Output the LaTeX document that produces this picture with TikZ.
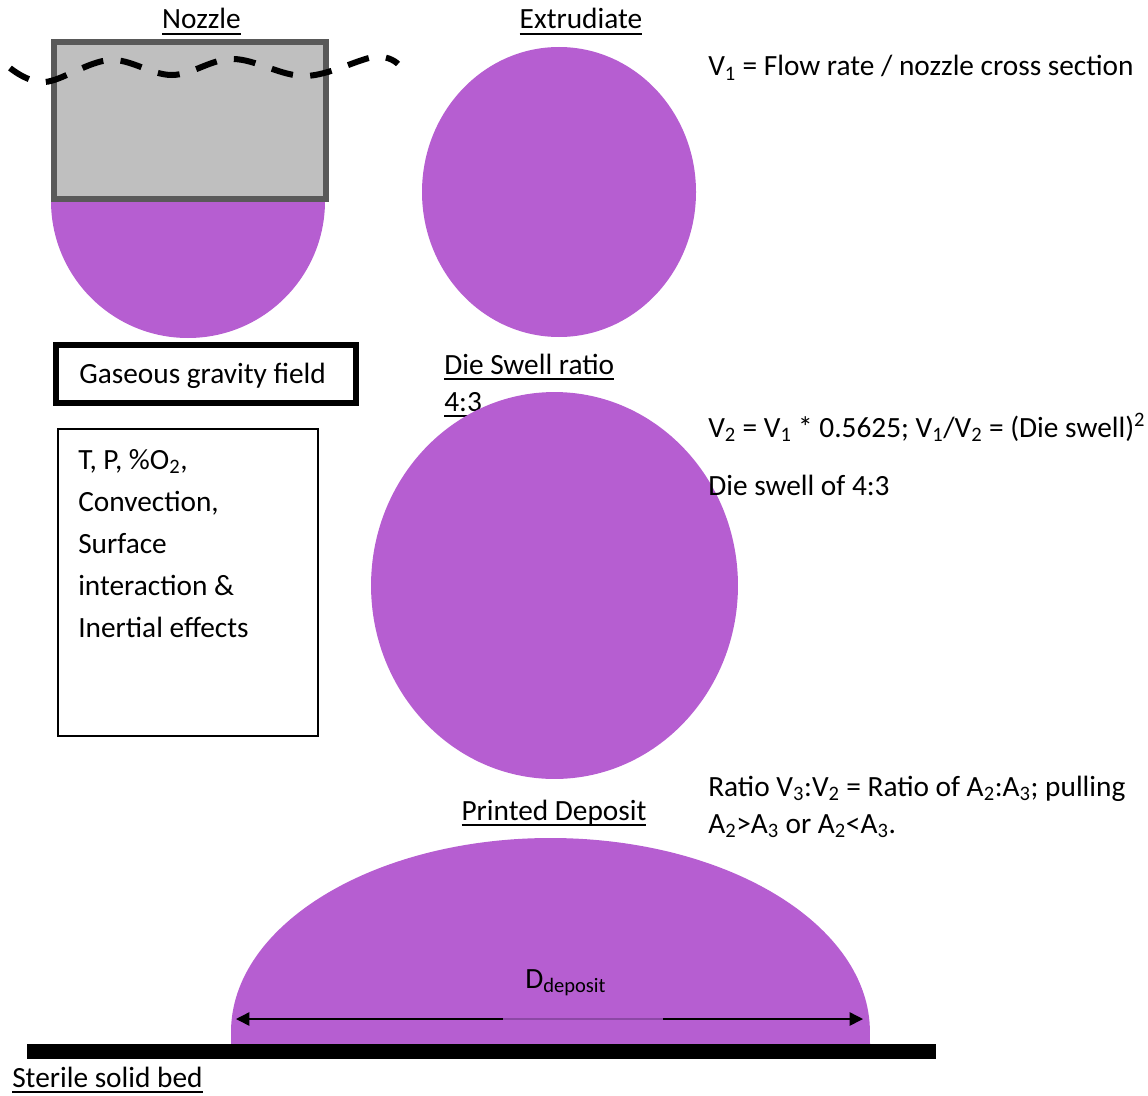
\documentclass[tikz,border=0pt]{standalone}
\usepackage{fontspec}
\setmainfont{Carlito}
\newcommand{\myul}[1]{\setbox0\hbox{#1}\rlap{\rule[-4.4pt]{\wd0}{1.3pt}}\box0}
\usetikzlibrary{arrows.meta}
\definecolor{purp}{RGB}{182,94,209}
\definecolor{purpdark}{RGB}{140,72,165}
\definecolor{nozfill}{RGB}{191,191,191}
\definecolor{nozline}{RGB}{89,89,89}
\tikzset{
  every node/.style={font=\fontsize{22}{31.5}\selectfont},
  txt/.style={anchor=base west, inner sep=0pt},
  ctxt/.style={anchor=base, inner sep=0pt},
  blob/.style={fill=purp},
  nozzlebox/.style={draw=nozline, fill=nozfill, line width=4.5pt, minimum width=204pt, minimum height=117.75pt, inner sep=0pt},
  gasbox/.style={draw=black, line width=4.5pt, minimum width=225pt, minimum height=43.5pt, inner sep=0pt},
  envbox/.style={draw=black, line width=1.3pt, minimum width=195pt, minimum height=230.25pt, inner sep=0pt},
  wave/.style={line width=4.5pt, dash pattern=on 16.5pt off 13pt},
  dimarrow/.style={line width=1.1pt, {Triangle[length=10pt,width=10pt]}-{Triangle[length=10pt,width=10pt]}}
}
\begin{document}
\begin{tikzpicture}[x=0.75pt,y=-0.75pt]
\useasboundingbox (0,0) rectangle (1148,1095);

% titles
\node[ctxt] (tnozzle) at (201.5,29) {\myul{Nozzle}};
\node[ctxt] (textr) at (581,29) {\myul{Extrudiate}};

% nozzle drop and nozzle
\fill[blob] (188,201) circle[radius=102.75pt];
\node[nozzlebox] (nozzle) at (190,120.5) {};
\draw[wave] plot[smooth, tension=0.6] coordinates {(10,68) (45,82) (110,60) (172,75) (233,59) (305,76) (374,57) (398,64)};

% extrudate
\fill[blob] (559,192) ellipse[x radius=102.75pt, y radius=108.75pt];

\node[txt] (v1) at (708,76) {V\textsubscript{1} = Flow rate / nozzle cross section};

% left boxes
\node[gasbox] (gas) at (205.5,374) {};
\node[txt] (gastext) at (79,383) {Gaseous gravity field};
\node[envbox] (env) at (188,582.5) {};
\node[txt] (e1) at (78,469) {T, P, \%O\textsubscript{2},};
\node[txt] (e2) at (78,511) {Convection,};
\node[txt] (e3) at (78,553) {Surface};
\node[txt] (e4) at (78,595) {interaction \&};
\node[txt] (e5) at (78,637) {Inertial effects};

% die swell
\node[txt] (ds1) at (444,374) {\myul{Die Swell ratio}};
\node[txt] (ds2) at (444,411) {\myul{4:3}};
\fill[blob] (554.5,585.5) ellipse[x radius=137.6pt, y radius=145.1pt];
\node[txt] (v2) at (708,437) {V\textsubscript{2} = V\textsubscript{1} * 0.5625; V\textsubscript{1}/V\textsubscript{2} = (Die swell)\textsuperscript{2}};
\node[txt] (dsof) at (708,495) {Die swell of 4:3};

% ratio text
\node[txt] (r1) at (708,796) {Ratio V\textsubscript{3}:V\textsubscript{2} = Ratio of A\textsubscript{2}:A\textsubscript{3}; pulling};
\node[txt] (r2) at (708,833) {A\textsubscript{2}>A\textsubscript{3} or A\textsubscript{2}<A\textsubscript{3}.};

% printed deposit
\node[ctxt] (tdep) at (554,820) {\myul{Printed Deposit}};
\fill[blob] (231,1032) arc[start angle=180, end angle=0, x radius=239.6pt, y radius=145.5pt] -- (870,1046) -- (231,1046) -- cycle;

\coordinate (dl) at (236,1019);
\coordinate (dr) at (863,1019);
\coordinate (ml) at (503,1019);
\coordinate (mr) at (663,1019);
\draw[dimarrow] (dl) -- (dr);
\draw[line width=1.1pt, purpdark] (ml) -- (mr);
\node[txt] (dlabel) at (525,988) {D\textsubscript{deposit}};

% bed
\fill[black] (27,1044) rectangle (936,1059);
\node[txt] (bed) at (12,1087) {\myul{Sterile solid bed}};
\end{tikzpicture}
\end{document}
